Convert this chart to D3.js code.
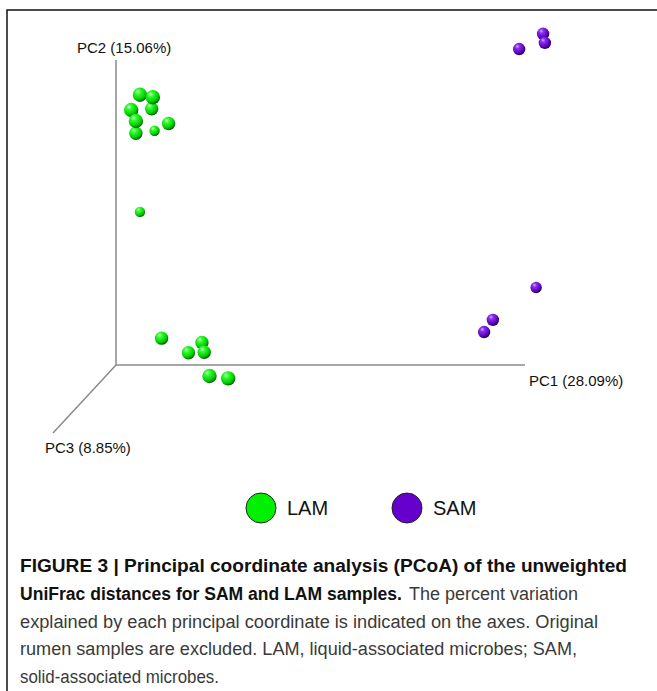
<!DOCTYPE html>
<html>
<head>
<meta charset="utf-8">
<script src="https://d3js.org/d3.v7.min.js"></script>
<style>
  body { margin: 0; background: #fff; }
  svg { display: block; font-family: "Liberation Sans", Arial, sans-serif; }
</style>
</head>
<body>
<div id="chart"></div>
<script>
// Define SVG area dimensions
var svgWidth = 657;
var svgHeight = 691;

// sample groups
var groups = ["LAM", "SAM"];
var groupColors = ["#00f000", "#6600cc"];

// PCoA coordinates (pc1, pc2, pc3)
var lamPC1 = [-0.159, -0.137, -0.139, -0.174, -0.166, -0.110, -0.134, -0.166, -0.159, -0.122, -0.053, -0.076, -0.049, -0.040, -0.008];
var lamPC2 = [0.193, 0.189, 0.170, 0.168, 0.150, 0.146, 0.134, 0.130, 0.001, -0.206, -0.213, -0.230, -0.229, -0.268, -0.272];
var lamPC3 = [0.133, 0.133, 0.067, 0.133, 0.133, 0.067, -0.133, 0.067, -0.133, 0.067, 0.067, 0.067, 0.067, 0.133, 0.133];

var samPC1 = [0.490, 0.531, 0.534, 0.519, 0.445, 0.430];
var samPC2 = [0.268, 0.293, 0.278, -0.123, -0.176, -0.196];
var samPC3 = [0.0, 0.0, 0.0, -0.067, 0.0, 0.0];

// axis labels
var axisLabels = ["PC1 (28.09%)", "PC2 (15.06%)", "PC3 (8.85%)"];

// caption
var captionBold = ["FIGURE 3 | Principal coordinate analysis (PCoA) of the unweighted",
                   "UniFrac distances for SAM and LAM samples."];
var captionText = ["The percent variation",
                   "explained by each principal coordinate is indicated on the axes. Original",
                   "rumen samples are excluded. LAM, liquid-associated microbes; SAM,",
                   "solid-associated microbes."];

var svg = d3.select("#chart")
  .append("svg")
  .attr("width", svgWidth)
  .attr("height", svgHeight);

// frame (top + left edges)
svg.append("path")
  .attr("d", "M7,691 L7,10 L657,10")
  .attr("fill", "none")
  .attr("stroke", "#111")
  .attr("stroke-width", 1.5);

// scales
var xScale = d3.scaleLinear().domain([-0.2, 0.5]).range([116, 525]);
var yScale = d3.scaleLinear().domain([-0.25, 0.25]).range([365, 60]);
var rScale = d3.scaleLinear().domain([-0.2, 0.2]).range([4.7, 7.7]);

// sphere gradients
var defs = svg.append("defs");
var gradStops = [
  ["#d8ffd0", "#30ff30", "#00c800", "#005000"],
  ["#d0b0ff", "#8a2ef0", "#5a00b4", "#1a0040"]
];
groups.forEach(function(g, i) {
  var grad = defs.append("radialGradient")
    .attr("id", "ball" + g)
    .attr("cx", "38%").attr("cy", "32%").attr("r", "70%")
    .attr("fx", "35%").attr("fy", "28%");
  var offs = ["0%", "25%", "75%", "100%"];
  gradStops[i].forEach(function(c, j) {
    grad.append("stop").attr("offset", offs[j]).attr("stop-color", c);
  });
});

// axes
var x0 = xScale(-0.2), y0 = yScale(-0.25);
var diag = [-63, 68];
var axisGroup = svg.append("g")
  .attr("stroke", "#8a8a8a")
  .attr("stroke-width", 1.5)
  .attr("fill", "none");
axisGroup.append("line")
  .attr("x1", x0).attr("y1", y0).attr("x2", xScale(0.5)).attr("y2", y0);
axisGroup.append("line")
  .attr("x1", x0).attr("y1", y0).attr("x2", x0).attr("y2", yScale(0.25));
axisGroup.append("line")
  .attr("x1", x0).attr("y1", y0).attr("x2", x0 + diag[0]).attr("y2", y0 + diag[1]);

var labelGroup = svg.append("g")
  .attr("font-size", 15)
  .attr("fill", "#111");
labelGroup.append("text").attr("x", xScale(0.5) + 4).attr("y", y0 + 21).text(axisLabels[0]);
labelGroup.append("text").attr("x", x0 - 39).attr("y", yScale(0.25) - 7).text(axisLabels[1]);
labelGroup.append("text").attr("x", x0 + diag[0] - 8).attr("y", y0 + diag[1] + 20).text(axisLabels[2]);

// build points
var points = [];
lamPC1.forEach(function(v, i) {
  points.push({group: "LAM", pc1: v, pc2: lamPC2[i], pc3: lamPC3[i]});
});
samPC1.forEach(function(v, i) {
  points.push({group: "SAM", pc1: v, pc2: samPC2[i], pc3: samPC3[i]});
});
// far ones first
points.sort(function(a, b) { return a.pc3 - b.pc3; });

svg.append("g").selectAll("circle")
  .data(points)
  .enter()
  .append("circle")
  .attr("cx", d => xScale(d.pc1))
  .attr("cy", d => yScale(d.pc2))
  .attr("r", d => rScale(d.pc3))
  .attr("fill", d => "url(#ball" + d.group + ")");

// legend
var legend = svg.append("g").attr("transform", "translate(261, 508)");
groups.forEach(function(g, i) {
  var item = legend.append("g").attr("transform", `translate(${i * 146}, 0)`);
  item.append("circle")
    .attr("r", 15)
    .attr("fill", groupColors[i])
    .attr("stroke", "#222")
    .attr("stroke-width", 1);
  item.append("text")
    .attr("x", 26)
    .attr("y", 7)
    .attr("font-size", 20)
    .attr("fill", "#111")
    .text(g);
});

// caption, each line fitted to the width it has in the original
var cap = svg.append("g")
  .attr("font-size", 18)
  .attr("fill", "#3a3a3a");
function capLine(x, y, txt, w, bold) {
  var t = cap.append("text")
    .attr("x", x)
    .attr("y", y)
    .text(txt);
  if (w) t.attr("textLength", w).attr("lengthAdjust", "spacingAndGlyphs");
  if (bold) t.attr("font-weight", "bold").attr("fill", "#111");
  return t;
}
capLine(20, 572, captionBold[0], 607, true);
capLine(20, 600, captionBold[1], 382, true);
capLine(409, 600, captionText[0], null, false);
capLine(20, 628, captionText[1], 578, false);
capLine(20, 655, captionText[2], 557, false);
capLine(20, 683, captionText[3], 199, false);
</script>
</body>
</html>
